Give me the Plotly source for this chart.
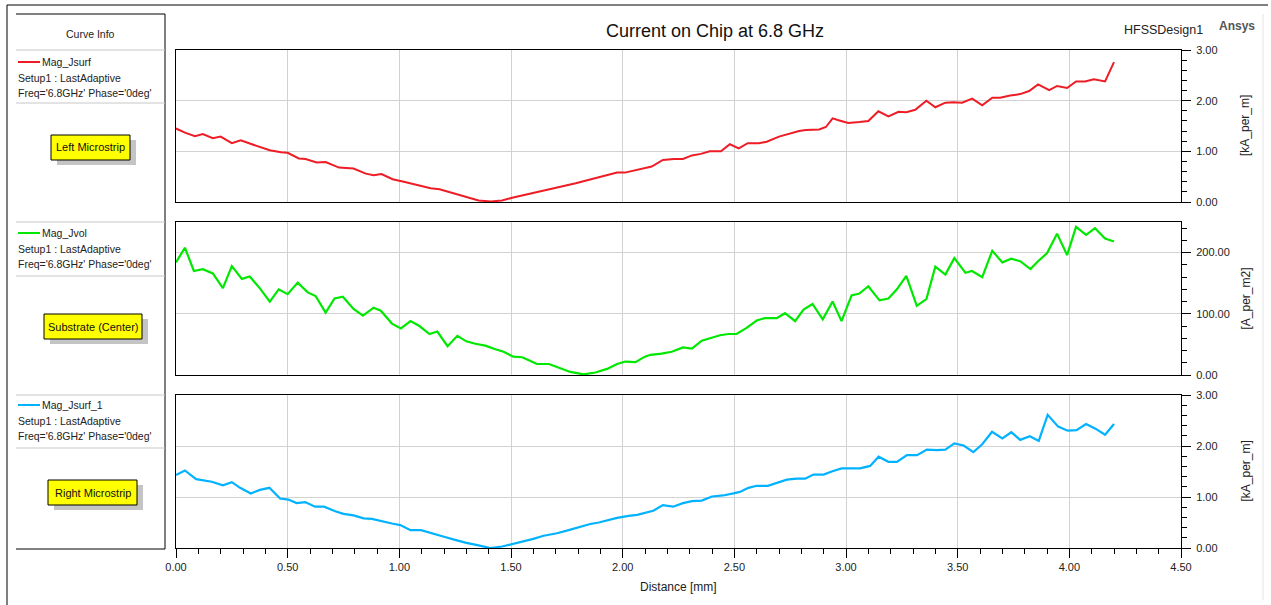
import plotly.graph_objects as go

W, H = 1271, 605
FONT = "Liberation Sans, Arial, sans-serif"

# Mag_Jsurf along the left microstrip [kA_per_m]
left_x = [0.00, 0.04, 0.085, 0.12, 0.165, 0.20, 0.25, 0.29, 0.34, 0.38, 0.42, 0.47, 0.50,
          0.55, 0.58, 0.63, 0.67, 0.73, 0.795, 0.85, 0.885, 0.92, 0.97, 1.02, 1.08, 1.14,
          1.18, 1.24, 1.30, 1.355, 1.41, 1.46, 1.51, 1.57, 1.62, 1.68, 1.74, 1.79, 1.85,
          1.915, 1.975, 2.01, 2.07, 2.13, 2.18, 2.23, 2.27, 2.31, 2.35, 2.39, 2.44, 2.48,
          2.52, 2.56, 2.61, 2.645, 2.70, 2.73, 2.79, 2.82, 2.88, 2.91, 2.94, 2.97, 3.01,
          3.06, 3.10, 3.145, 3.19, 3.235, 3.27, 3.31, 3.36, 3.40, 3.445, 3.48, 3.52, 3.565,
          3.61, 3.655, 3.69, 3.735, 3.78, 3.82, 3.86, 3.91, 3.945, 3.99, 4.03, 4.07, 4.11,
          4.16, 4.20]
left_y = [1.45, 1.37, 1.30, 1.34, 1.26, 1.29, 1.16, 1.22, 1.14, 1.08, 1.02, 0.98, 0.97,
          0.86, 0.85, 0.78, 0.79, 0.68, 0.66, 0.56, 0.53, 0.55, 0.45, 0.40, 0.34, 0.27,
          0.25, 0.17, 0.09, 0.03, 0.01, 0.03, 0.09, 0.15, 0.20, 0.25, 0.32, 0.37, 0.44,
          0.51, 0.58, 0.58, 0.64, 0.70, 0.83, 0.85, 0.85, 0.92, 0.95, 1.00, 1.00, 1.14,
          1.06, 1.16, 1.16, 1.19, 1.29, 1.33, 1.40, 1.42, 1.43, 1.48, 1.65, 1.61, 1.56,
          1.58, 1.60, 1.79, 1.69, 1.78, 1.77, 1.82, 2.00, 1.87, 1.96, 1.97, 1.96, 2.04,
          1.91, 2.06, 2.06, 2.10, 2.13, 2.19, 2.32, 2.21, 2.29, 2.25, 2.38, 2.38, 2.42,
          2.38, 2.76]

# Mag_Jvol in the substrate centre [A_per_m2]
sub_x = [0.00, 0.04, 0.08, 0.12, 0.165, 0.21, 0.25, 0.295, 0.33, 0.375, 0.42, 0.46, 0.50,
         0.545, 0.59, 0.625, 0.67, 0.71, 0.747, 0.795, 0.837, 0.885, 0.917, 0.967, 1.007,
         1.05, 1.09, 1.135, 1.17, 1.216, 1.26, 1.30, 1.34, 1.385, 1.43, 1.467, 1.51, 1.55,
         1.58, 1.616, 1.67, 1.713, 1.766, 1.825, 1.878, 1.93, 1.975, 2.012, 2.057, 2.10,
         2.125, 2.174, 2.22, 2.27, 2.31, 2.354, 2.394, 2.436, 2.473, 2.51, 2.555, 2.60,
         2.637, 2.69, 2.727, 2.772, 2.81, 2.85, 2.896, 2.94, 2.98, 3.025, 3.06, 3.10, 3.15,
         3.19, 3.228, 3.27, 3.317, 3.36, 3.40, 3.445, 3.485, 3.535, 3.564, 3.61, 3.655,
         3.70, 3.74, 3.78, 3.826, 3.86, 3.90, 3.945, 3.99, 4.03, 4.075, 4.115, 4.16, 4.20]
sub_y = [184, 208, 170, 173, 166, 142, 178, 157, 161, 142, 120, 140, 132,
         151, 135, 129, 102, 125, 128, 108, 97, 110, 105, 84, 76,
         88, 80, 67, 71, 47, 64, 55, 51, 48, 42, 38, 30, 29,
         24, 18, 18, 12, 5, 1, 4, 10, 18, 22, 21, 30,
         33, 35, 38, 45, 43, 56, 60, 65, 67, 67, 77, 89,
         93, 93, 101, 88, 107, 116, 91, 120, 88, 130, 133, 145, 122,
         125, 140, 162, 113, 124, 177, 164, 191, 167, 170, 160, 203,
         184, 190, 186, 173, 186, 199, 231, 196, 242, 229, 240, 223, 218]

# Mag_Jsurf_1 along the right microstrip [kA_per_m]
right_x = [0.00, 0.04, 0.09, 0.12, 0.16, 0.21, 0.25, 0.287, 0.335, 0.376, 0.418, 0.466,
           0.503, 0.54, 0.578, 0.623, 0.663, 0.713, 0.75, 0.795, 0.84, 0.877, 0.92, 0.967,
           1.004, 1.05, 1.097, 1.14, 1.20, 1.25, 1.30, 1.355, 1.407, 1.46, 1.51, 1.564,
           1.60, 1.646, 1.706, 1.758, 1.81, 1.855, 1.893, 1.937, 1.975, 2.027, 2.065, 2.137,
           2.18, 2.226, 2.27, 2.31, 2.354, 2.40, 2.45, 2.496, 2.525, 2.563, 2.60, 2.65,
           2.69, 2.735, 2.78, 2.817, 2.854, 2.90, 2.936, 2.98, 3.026, 3.063, 3.108, 3.146,
           3.19, 3.228, 3.273, 3.318, 3.362, 3.407, 3.445, 3.485, 3.527, 3.57, 3.609, 3.654,
           3.70, 3.74, 3.78, 3.823, 3.863, 3.903, 3.95, 3.993, 4.032, 4.075, 4.117, 4.16,
           4.20]
right_y = [1.43, 1.52, 1.35, 1.33, 1.30, 1.23, 1.29, 1.18, 1.07, 1.14, 1.18, 0.97,
           0.95, 0.88, 0.90, 0.81, 0.81, 0.72, 0.67, 0.64, 0.58, 0.57, 0.52, 0.48,
           0.45, 0.35, 0.35, 0.29, 0.22, 0.16, 0.10, 0.05, 0.00, 0.03, 0.08, 0.13,
           0.18, 0.24, 0.29, 0.35, 0.42, 0.47, 0.50, 0.55, 0.59, 0.63, 0.65, 0.73,
           0.84, 0.81, 0.88, 0.92, 0.93, 1.01, 1.03, 1.07, 1.10, 1.18, 1.22, 1.22,
           1.27, 1.34, 1.36, 1.36, 1.44, 1.44, 1.50, 1.56, 1.56, 1.56, 1.61, 1.79,
           1.69, 1.69, 1.82, 1.82, 1.93, 1.92, 1.93, 2.05, 2.01, 1.88, 2.03, 2.28,
           2.15, 2.27, 2.12, 2.19, 2.10, 2.61, 2.38, 2.30, 2.31, 2.43, 2.34, 2.22,
           2.43]

RED, GREEN, BLUE = "#EE1C25", "#00E800", "#00B2FF"
GRID = "#d2d2d2"


def fx(p):
    return p / W


def fy(p):
    return 1 - p / H


X_DOM = [fx(176), fx(1181)]
# pixel rows (top, bottom) of the three panels
ROWS = [(50, 202), (222, 375), (395, 548)]

fig = go.Figure()
fig.add_trace(go.Scatter(x=left_x, y=left_y, xaxis="x2", yaxis="y2", mode="lines",
                         line=dict(color=RED, width=2)))
fig.add_trace(go.Scatter(x=sub_x, y=sub_y, xaxis="x3", yaxis="y3", mode="lines",
                         line=dict(color=GREEN, width=2.2)))
fig.add_trace(go.Scatter(x=right_x, y=right_y, xaxis="x", yaxis="y", mode="lines",
                         line=dict(color=BLUE, width=2.2)))

tick_font = dict(family=FONT, size=11, color="#222")

x_common = dict(range=[0, 4.5], dtick=0.5, showgrid=True, gridcolor=GRID, gridwidth=1,
                showline=True, linecolor="black", linewidth=1, mirror=True,
                zeroline=False, domain=X_DOM, fixedrange=True, automargin=False)


def y_axis(rng, dtick, minor, anchor, row):
    top, bot = row
    return dict(range=rng, dtick=dtick, tickformat=".2f", side="right", anchor=anchor,
                domain=[fy(bot), fy(top)], showgrid=True, gridcolor=GRID, gridwidth=1,
                showline=True, linecolor="black", linewidth=1, mirror=True,
                zeroline=False, ticks="outside", ticklen=9, tickcolor="black",
                tickfont=tick_font, ticklabelstandoff=3, automargin=False,
                minor=dict(dtick=minor, ticks="outside", ticklen=5, tickcolor="black",
                           showgrid=False),
                fixedrange=True)


layout = dict(
    template="none",
    width=W, height=H, autosize=False,
    margin=dict(l=0, r=0, t=0, b=0, pad=0, autoexpand=False),
    paper_bgcolor="white", plot_bgcolor="white",
    showlegend=False, hovermode=False,
    font=dict(family=FONT, size=11, color="#222"),
    xaxis=dict(x_common, anchor="y", ticks="outside", ticklen=9, tickcolor="black",
               tickformat=".2f", tickfont=tick_font,
               minor=dict(dtick=0.1, ticks="outside", ticklen=5, tickcolor="black",
                          showgrid=False)),
    xaxis2=dict(x_common, anchor="y2", matches="x", showticklabels=False, ticks=""),
    xaxis3=dict(x_common, anchor="y3", matches="x", showticklabels=False, ticks=""),
    yaxis=y_axis([0, 3], 1, 0.2, "x", ROWS[2]),
    yaxis2=y_axis([0, 3], 1, 0.2, "x2", ROWS[0]),
    yaxis3=y_axis([0, 250], 100, 20, "x3", ROWS[1]),
)
fig.update_layout(**layout)

shapes = []


def hline(x0, x1, y, color="black", width=1):
    shapes.append(dict(type="line", xref="paper", yref="paper", x0=fx(x0), x1=fx(x1),
                       y0=fy(y), y1=fy(y), line=dict(color=color, width=width)))


def vline(x, y0, y1, color="black", width=1):
    shapes.append(dict(type="line", xref="paper", yref="paper", x0=fx(x), x1=fx(x),
                       y0=fy(y0), y1=fy(y1), line=dict(color=color, width=width)))


# outer frame
hline(7, 1268, 5)
vline(7, 5, 605)
vline(1263, 14, 600, color="#e4e4e4")

# curve info panel
hline(16, 165, 14)
vline(165, 14, 549)
hline(16, 165, 549)
for yy in (50, 103, 222, 276, 395, 448):
    hline(16, 165, yy, color="#c8c8c8")

annotations = []
PAD = 2  # annotation inner padding in px


def text(x, y, s, size=10.5, xanchor="left", color="#222", bold=False, angle=0):
    if xanchor == "left":
        x -= PAD
    elif xanchor == "right":
        x += PAD
    annotations.append(dict(xref="paper", yref="paper", x=fx(x), y=fy(y),
                            text=f"<b>{s}</b>" if bold else s, showarrow=False,
                            xanchor=xanchor, yanchor="middle", textangle=angle,
                            font=dict(family=FONT, size=size, color=color)))


text(90, 34, "Curve Info", size=10.5, xanchor="center")

entries = [
    ("Mag_Jsurf", RED, 62, "Left Microstrip", (51, 135, 130, 160)),
    ("Mag_Jvol", GREEN, 233, "Substrate (Center)", (44, 314, 142, 339)),
    ("Mag_Jsurf_1", BLUE, 405, "Right Microstrip", (48, 480, 137, 505)),
]
for name, color, y0, label, (bx0, by0, bx1, by1) in entries:
    hline(18, 40, y0, color=color, width=2)
    text(42, y0, name)
    text(18, y0 + 16, "Setup1 : LastAdaptive")
    text(18, y0 + 31, "Freq='6.8GHz' Phase='0deg'")
    # label box with drop shadow
    shapes.append(dict(type="rect", xref="paper", yref="paper",
                       x0=fx(bx0 + 6), x1=fx(bx1 + 6), y0=fy(by1 + 5), y1=fy(by0 + 5),
                       fillcolor="#c4c4c4", line=dict(width=0)))
    shapes.append(dict(type="rect", xref="paper", yref="paper",
                       x0=fx(bx0), x1=fx(bx1), y0=fy(by1), y1=fy(by0),
                       fillcolor="#FFFF00", line=dict(color="black", width=1)))
    text((bx0 + bx1) / 2, (by0 + by1) / 2, label, size=11, xanchor="center", color="#111")

# titles
text(715, 31, "Current on Chip at 6.8 GHz", size=18, xanchor="center", color="#111")
text(1203, 30, "HFSSDesign1", size=12.5, xanchor="right", color="#222")
text(1237, 26, "Ansys", size=12, xanchor="center", color="#555", bold=True)

# axis titles
text(678, 587, "Distance [mm]", size=12, xanchor="center")
for (top, bot), unit in zip(ROWS, ["[kA_per_m]", "[A_per_m2]", "[kA_per_m]"]):
    text(1245, (top + bot) / 2, unit, size=12, xanchor="center", angle=-90)

fig.update_layout(shapes=shapes, annotations=annotations)
# page without body margin so the fixed-size figure sits at the window origin
fig.write_html("out.html", config={"displayModeBar": False},
               post_script="document.body.style.margin='0';"
                           "document.body.style.overflow='hidden';")
